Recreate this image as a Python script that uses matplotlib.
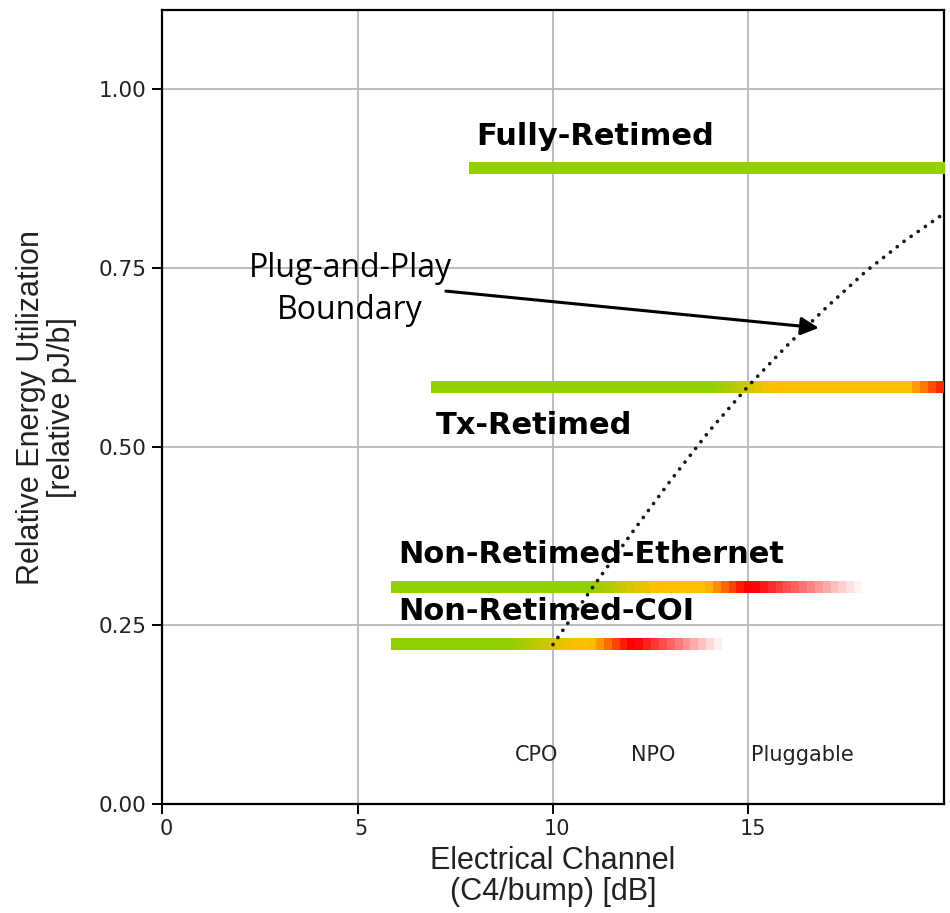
import numpy as np
import matplotlib
matplotlib.use("Agg")
import matplotlib.pyplot as plt
from matplotlib.colors import to_rgba
from matplotlib.transforms import ScaledTranslation

# ---------------- data ----------------
series_names = ["Fully-Retimed", "Tx-Retimed", "Non-Retimed-Ethernet", "Non-Retimed-COI"]
series_level = [0.889, 0.583, 0.3035, 0.223]
series_start = [7.85, 6.88, 5.86, 5.86]
series_end = [20.0, 20.0, 17.9, 14.3]

# colour stops along each bar: (x position, colour, alpha)
stops_fully = [(7.85, "#92D000", 1.0), (20.0, "#92D000", 1.0)]
stops_tx = [(6.88, "#92D000", 1.0), (14.0, "#92D000", 1.0), (15.6, "#FFC000", 1.0),
            (19.0, "#FFC000", 1.0), (20.0, "#FF0000", 1.0)]
stops_eth = [(5.86, "#92D000", 1.0), (10.9, "#92D000", 1.0), (12.6, "#FFC000", 1.0),
             (13.9, "#FFC000", 1.0), (14.9, "#FF0000", 1.0), (15.1, "#FF0000", 1.0),
             (17.9, "#FF0000", 0.0)]
stops_coi = [(5.86, "#92D000", 1.0), (8.9, "#92D000", 1.0), (10.6, "#FFC000", 1.0),
             (10.95, "#FFC000", 1.0), (11.9, "#FF0000", 1.0), (12.1, "#FF0000", 1.0),
             (14.3, "#FF0000", 0.0)]
series_stops = [stops_fully, stops_tx, stops_eth, stops_coi]

label_x = [8.04, 7.0, 6.03, 6.03]
label_y = [0.9217, 0.5175, 0.3375, 0.257]

boundary_x = [10, 11, 12, 13, 14, 15, 16, 17, 18, 19, 20]
boundary_y = [0.223, 0.302, 0.378, 0.452, 0.522, 0.585, 0.642, 0.695, 0.745, 0.788, 0.826]

pkg_names = ["CPO", "NPO", "Pluggable"]
pkg_x = [9.58, 12.57, 16.38]
pkg_y = [0.0685, 0.0685, 0.0685]

x_ticks = [0, 5, 10, 15]
y_ticks = [0.0, 0.25, 0.5, 0.75, 1.0]

# ---------------- figure ----------------
W, H = 950, 913
fig = plt.figure(figsize=(W / 100, H / 100), dpi=100)
ax = fig.add_axes([162 / W, (H - 804) / H, (944 - 162) / W, (804 - 10.5) / H])

bar_h = 0.0155
step = 0.2
for lvl, x0, x1, stops in zip(series_level, series_start, series_end, series_stops):
    xs = np.arange(x0, x1 + 1e-9, step)
    mids = xs[:-1] + step / 2 if len(xs) > 1 else np.array([x0])
    sx = np.array([s[0] for s in stops])
    rgba = np.array([to_rgba(s[1], s[2]) for s in stops])
    cols = np.stack([np.interp(mids, sx, rgba[:, k]) for k in range(4)], axis=1)
    ax.imshow(cols[None, :, :], extent=[x0, x1, lvl - bar_h / 2, lvl + bar_h / 2],
              aspect="auto", interpolation="nearest", zorder=3)

for name, lx, ly in zip(series_names, label_x, label_y):
    ax.text(lx, ly, name, fontsize=22, fontweight="bold", family="DejaVu Sans",
            ha="left", va="baseline", color="black", zorder=6)

ax.plot(boundary_x, boundary_y, linestyle=(0, (0.01, 2.3)), dash_capstyle="round",
        color="#1a1a1a", lw=2.7, zorder=5)

for name, px, py in zip(pkg_names, pkg_x, pkg_y):
    ax.text(px, py, name, fontsize=15, ha="center", va="center", color="#222222",
            family="DejaVu Sans", zorder=6)

ax.annotate("", xy=(16.8, 0.666), xytext=(7.26, 0.7175),
            arrowprops=dict(arrowstyle="-|>", color="black", lw=2.2,
                            mutation_scale=27, shrinkA=0, shrinkB=0), zorder=7)
ax.text(4.81, 0.720, "Plug-and-Play\nBoundary", fontsize=23, family="Open Sans",
        ha="center", va="center", multialignment="center", linespacing=1.35,
        color="black", zorder=7)

ax.set_xlim(0, 20)
ax.set_ylim(0, 1.11)
ax.set_xticks(x_ticks)
ax.set_yticks(y_ticks)
ax.set_yticklabels([f"{v:.2f}" for v in y_ticks])
ax.grid(True, color="#b8b8b8", lw=1.3, zorder=0)
ax.set_axisbelow(True)
for sp in ax.spines.values():
    sp.set_linewidth(1.6)
    sp.set_color("black")
ax.tick_params(direction="out", length=7, width=1.4, labelsize=15, pad=4,
               colors="black", labelcolor="#222222")
ax.tick_params(axis="y", labelsize=15.5)
off = ScaledTranslation(4 / 100, 0, fig.dpi_scale_trans)
for lab in ax.get_xticklabels():
    lab.set_transform(lab.get_transform() + off)

ax.set_xlabel("Electrical Channel\n(C4/bump) [dB]", fontsize=22, family="Liberation Sans",
              linespacing=1.05, color="#222222")
ax.xaxis.set_label_coords(0.5, -0.053)
ax.set_ylabel("Relative Energy Utilization\n[relative pJ/b]", fontsize=22,
              family="Liberation Sans", linespacing=1.05, color="#222222")
ax.yaxis.set_label_coords(-0.1087, 0.5)

fig.savefig("out.png", dpi=100)
